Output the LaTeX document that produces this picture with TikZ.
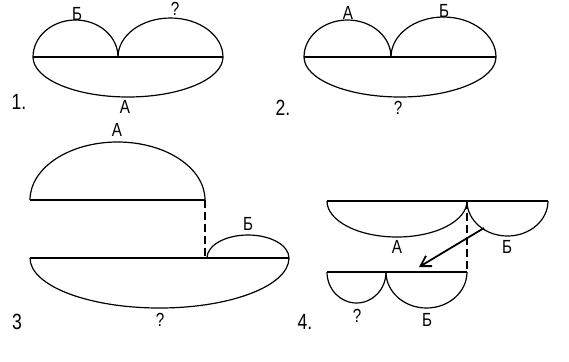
\documentclass[tikz,border=0pt]{standalone}
\usepackage{fontspec}
\setmainfont{Liberation Sans}[FakeStretch=0.8]
\usetikzlibrary{arrows.meta}

\begin{document}
\begin{tikzpicture}[x=0.5pt, y=-0.5pt, line width=0.6pt,
  lbl/.style={inner sep=0pt, font=\fontsize{9.5}{11}\selectfont},
  num/.style={inner sep=0pt, font=\fontsize{11}{13}\selectfont},
  dashline/.style={dashed, dash pattern=on 4pt off 2pt}]
\path (0,0) rectangle (569,361);
\draw (33,57) -- (223,57);
\draw (33,57) arc[start angle=180, end angle=360, x radius=42.5, y radius=37];
\draw (118,57) arc[start angle=180, end angle=360, x radius=52.5, y radius=39];
\draw (33,57) arc[start angle=180, end angle=0, x radius=95, y radius=40];
\node[lbl] (b1) at (77,14) {Б};
\node[lbl] (q1) at (175,9) {?};
\node[lbl] (a1) at (125,107) {А};
\node[num] (n1) at (19,102) {1.};
\draw (304,57) -- (496,57);
\draw (304,57) arc[start angle=180, end angle=360, x radius=43.5, y radius=37];
\draw (391,57) arc[start angle=180, end angle=360, x radius=52.5, y radius=40];
\draw (304,57) arc[start angle=180, end angle=0, x radius=96, y radius=40];
\node[lbl] (a2) at (348,13) {А};
\node[lbl] (b2) at (444,11) {Б};
\node[lbl] (q2) at (398,108) {?};
\node[num] (n2) at (283,108) {2.};
\draw (30,200) -- (205,200);
\draw (30,200) arc[start angle=180, end angle=360, x radius=87.5, y radius=58];
\draw[dashline] (205,200) -- (205,258);
\draw (30,258) -- (289,258);
\draw (207,258) arc[start angle=180, end angle=360, x radius=41, y radius=23];
\draw (30,258) arc[start angle=180, end angle=0, x radius=129.5, y radius=50];
\node[lbl] (a3) at (117,130) {А};
\node[lbl] (b3) at (248,224) {Б};
\node[lbl] (q3) at (160,320) {?};
\node[num] (n3) at (17,322) {3};
\draw (327,201) -- (548,201);
\draw (327,201) arc[start angle=180, end angle=0, x radius=70, y radius=36];
\draw (467,201) arc[start angle=180, end angle=0, x radius=40.5, y radius=35];
\draw[dashline] (467,201) -- (467,272);
\draw (327,272) -- (467,272);
\draw (327,272) arc[start angle=180, end angle=0, x radius=29.5, y radius=31];
\draw (386,272) arc[start angle=180, end angle=0, x radius=40.5, y radius=36];
\coordinate (from) at (484,228);
\coordinate (to) at (419,267);
\draw[line width=0.9pt, -{Straight Barb[length=5pt, width=6pt]}] (from) -- (to);
\node[lbl] (a4) at (397,247) {А};
\node[lbl] (b4) at (507,247) {Б};
\node[lbl] (q4) at (357,316) {?};
\node[lbl] (b5) at (427,320) {Б};
\node[num] (n4) at (305,322) {4.};
\end{tikzpicture}
\end{document}
